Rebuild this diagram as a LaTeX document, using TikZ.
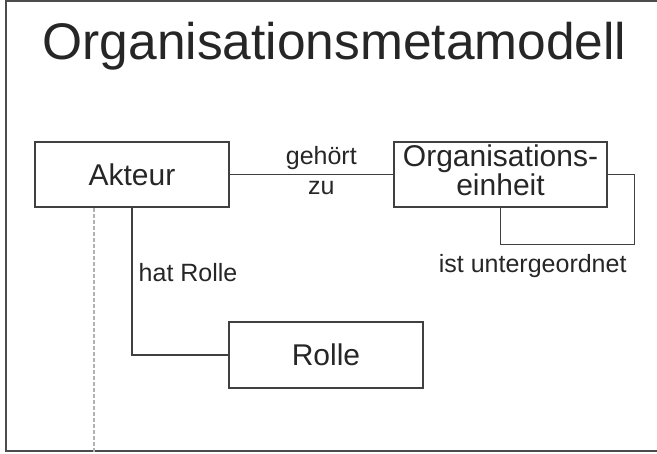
\documentclass[tikz,border=0pt]{standalone}
\usepackage{fontspec}
\setmainfont{Liberation Sans}
\begin{document}
\begin{tikzpicture}[x=1pt,y=-1pt,
		kasten/.style={draw=black!75,line width=1.5pt,rectangle,inner sep=0pt,text=black!85,font=\fontsize{30}{27}\selectfont,align=center},
		verb/.style={draw=black!75,line width=1.4pt},
		beschr/.style={text=black!85,font=\fontsize{25}{30}\selectfont,inner sep=0pt,align=center}]
		\useasboundingbox (0,0) rectangle (657,454);
		\draw[black!70,line width=2pt] (657,1.5) -- (5.5,1.5) -- (5.5,451.5) -- (657,451.5);
		
		\node[anchor=base,text=black!85,font=\fontsize{51.5}{60}\selectfont] (titel) at (334.5,60) {Organisationsmetamodell};
		
		\node[kasten,minimum width=194pt,minimum height=65pt] (akteur) at (132,174.5) {Akteur};
		\node[kasten,minimum width=213pt,minimum height=65pt] (einheit) at (500.5,174.5) {Organisations-\\einheit\strut};
		\node[kasten,minimum width=194pt,minimum height=66pt] (rolle) at (326,355) {Rolle};
		
		\draw[verb] (akteur.east) -- node[beschr,pos=0.56,yshift=3.5pt]{gehört\\zu} (einheit.west);
		\draw[verb] (akteur.south) |- node[beschr,pos=0.25,anchor=base west,xshift=6pt]{hat Rolle} (rolle.west);
		\draw[verb] (einheit.east) -| ++(27,70) -| node[beschr,pos=0.38,anchor=base,yshift=-28.5pt]{ist untergeordnet} (einheit.south);
		
		%Lebenslinie unter Akteur
		\coordinate (linie) at (94,454);
		\draw[gray!60,line width=1.5pt,dash pattern=on 4pt off 2pt] (akteur.south -| linie) -- (linie);
\end{tikzpicture}
\end{document}
